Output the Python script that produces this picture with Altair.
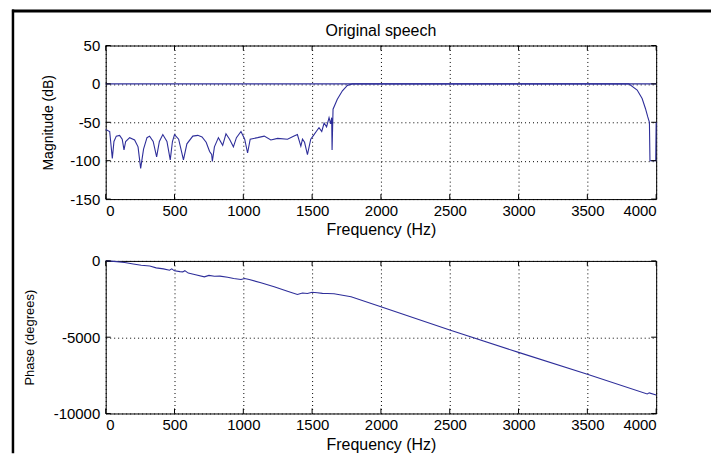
import altair as alt
import pandas as pd

# ---------------- data ----------------
x_ticks = [0, 500, 1000, 1500, 2000, 2500, 3000, 3500, 4000]
mag_ticks = [-150, -100, -50, 0, 50]
phase_ticks = [-10000, -5000, 0]

flat_freq = [0, 4000]
flat_db = [0, 0]

mag_freq = [0, 29, 48, 60, 77, 101, 120, 133, 145, 174, 210, 235, 254, 275, 300, 319,
            345, 370, 390, 415, 445, 469, 485, 500, 530, 565, 590, 633, 669, 700, 730,
            755, 770, 775, 790, 819, 850, 874, 900, 928, 950, 983, 1010, 1031, 1050,
            1104, 1152, 1200, 1249, 1321, 1369, 1393, 1418, 1430, 1445, 1466, 1490,
            1514, 1530, 1550, 1570, 1587, 1605, 1623, 1635, 1642, 1645, 1652, 1683,
            1720, 1756, 1792, 1800, 3801, 3862, 3898, 3922, 3939, 3951, 3955, 3997, 4000]
mag_db = [-59.5, -62, -97, -75, -68, -67, -72, -86, -75, -70, -73, -82, -110, -85, -70,
          -68, -75, -95, -75, -66, -75, -99, -75, -66, -72, -99, -78, -68, -67, -69, -76,
          -88, -92, -101, -82, -70, -80, -65, -72, -82, -70, -62, -72, -90, -72, -70,
          -68, -73, -71, -72, -68, -66, -81, -72, -76, -92, -72, -66, -62, -57, -62,
          -51, -56, -44, -52, -44, -86, -33, -20, -9, -2, 0, 0, 0, -8, -19, -32, -43,
          -50, -100, -100, -50]

phase_freq = [0, 17, 80, 138, 200, 258, 320, 367, 420, 464, 480, 500, 540, 560, 575,
              600, 645, 717, 750, 790, 830, 886, 930, 983, 1010, 1043, 1128, 1224, 1321,
              1393, 1430, 1466, 1500, 1538, 1575, 1611, 1659, 1783, 2000, 2500, 3000,
              3500, 3935, 3950, 4000]
phase_deg = [0, 0, -50, -109, -200, -283, -330, -458, -520, -610, -520, -650, -700,
             -720, -640, -800, -894, -1046, -950, -1002, -1000, -1068, -1150, -1220,
             -1150, -1220, -1438, -1700, -1983, -2200, -2100, -2135, -2050, -2092,
             -2130, -2135, -2157, -2354, -3008, -4534, -5995, -7434, -8720, -8650,
             -8785]

# ---------------- styling ----------------
W, H1, H2 = 552, 154, 153
GAP = 62
LINE = "#2e2e9a"
FONT = "Liberation Sans"

mag_df = pd.DataFrame({"f": mag_freq, "v": mag_db, "s": "response"})
flat_df = pd.DataFrame({"f": flat_freq, "v": flat_db, "s": "flat"})
line_top = pd.concat([flat_df, mag_df], ignore_index=True)
line_bot = pd.DataFrame({"f": phase_freq, "v": phase_deg})
xt_df = pd.DataFrame({"f": x_ticks})
one = pd.DataFrame({"a": [0]})


def xaxis():
    return alt.Axis(values=x_ticks, title="Frequency (Hz)", grid=True, gridColor="#000",
                    gridDash=[1, 3], gridOpacity=1, ticks=False, tickSize=0, domain=False,
                    labelFont=FONT, labelFontSize=15, labelColor="#000", labelPadding=4,
                    labelExpr="datum.value + ''", titleFont=FONT, titleFontSize=16,
                    titleFontWeight="normal", titleColor="#000", titlePadding=4)


def yaxis(vals, title, tsize, tpad):
    return alt.Axis(values=vals, title=title, grid=True, gridColor="#000",
                    gridDash=[1, 3], gridOpacity=1, ticks=False, tickSize=0, domain=False,
                    labelFont=FONT, labelFontSize=15, labelColor="#000", labelPadding=6,
                    labelExpr="datum.value + ''", titleFont=FONT, titleFontSize=tsize,
                    titleFontWeight="normal", titleColor="#000", titlePadding=tpad)


def panel(df, ydom, yvals, ytitle, h, tsize, tpad, detail=False):
    xs = alt.Scale(domain=[0, 4000], nice=False, zero=False)
    ys = alt.Scale(domain=ydom, nice=False, zero=False)
    X = alt.X("f:Q", scale=xs, axis=xaxis())
    Y = alt.Y("v:Q", scale=ys, axis=yaxis(yvals, ytitle, tsize, tpad))
    enc = dict(x=X, y=Y)
    if detail:
        enc["detail"] = "s:N"
    line = alt.Chart(df).mark_line(color=LINE, strokeWidth=1.1).encode(**enc)
    yt_df = pd.DataFrame({"v": yvals})
    t1 = alt.Chart(xt_df).mark_rule(color="#000").encode(x=X, y=alt.value(0), y2=alt.value(5))
    t2 = alt.Chart(xt_df).mark_rule(color="#000").encode(x=X, y=alt.value(h - 5), y2=alt.value(h))
    t3 = alt.Chart(yt_df).mark_rule(color="#000").encode(y=Y, x=alt.value(0), x2=alt.value(5))
    t4 = alt.Chart(yt_df).mark_rule(color="#000").encode(y=Y, x=alt.value(W - 5), x2=alt.value(W))
    return [line, t1, t2, t3, t4]


top = alt.layer(*panel(line_top, [-150, 50], mag_ticks, "Magnitude (dB)", H1, 14, 14,
                       detail=True)).properties(
    width=W, height=H1,
    title=alt.TitleParams("Original speech", font=FONT, fontSize=16, fontWeight="normal",
                          color="#000", offset=0))

# outer frame (top and left black border of the screenshot), drawn from the lower panel
top_off = -(H1 + GAP) - 34.5
frame_top = alt.Chart(one).mark_rule(color="#000", strokeWidth=3).encode(
    x=alt.value(-94), x2=alt.value(607), y=alt.value(top_off))
frame_left = alt.Chart(one).mark_rule(color="#000", strokeWidth=2.5).encode(
    x=alt.value(-93), y=alt.value(top_off - 1.5), y2=alt.value(H2 + 40))

bot = alt.layer(*panel(line_bot, [-10000, 0], phase_ticks, "Phase (degrees)", H2, 13, 17),
                frame_top, frame_left).properties(width=W, height=H2)

chart = alt.vconcat(top, bot, spacing=GAP, bounds="flush").properties(
    padding={"left": 10, "top": 7, "right": 0, "bottom": 0},
    background="white"
).configure_view(stroke="#000", strokeWidth=1)

chart.save("out.html", embed_options={"renderer": "svg", "actions": False})
